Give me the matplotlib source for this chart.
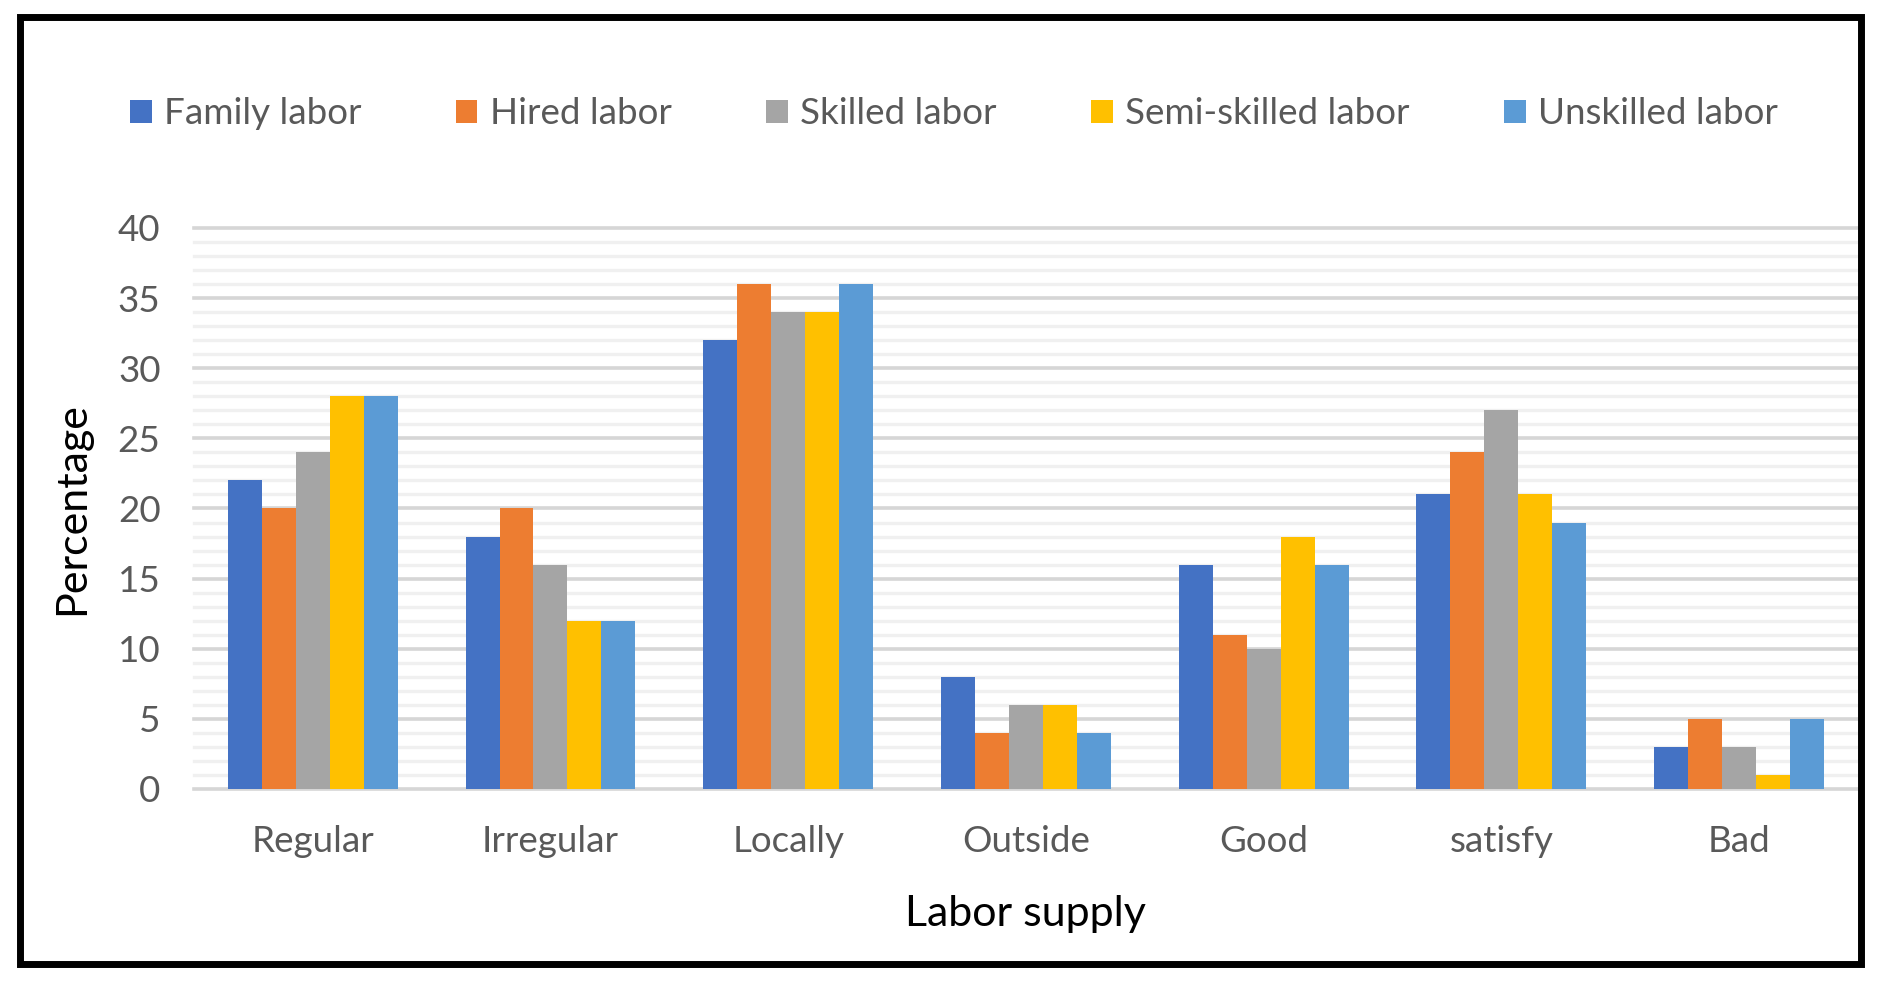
import matplotlib
matplotlib.use('Agg')
import matplotlib.pyplot as plt
import numpy as np
from matplotlib.patches import Rectangle

plt.rcParams['font.family'] = ['Lato', 'DejaVu Sans']

categories = ['Regular', 'Irregular', 'Locally', 'Outside', 'Good', 'satisfy', 'Bad']
series_names = ['Family labor', 'Hired labor', 'Skilled labor', 'Semi-skilled labor', 'Unskilled labor']
family_labor = [22, 18, 32, 8, 16, 21, 3]
hired_labor = [20, 20, 36, 4, 11, 24, 5]
skilled_labor = [24, 16, 34, 6, 10, 27, 3]
semi_skilled_labor = [28, 12, 34, 6, 18, 21, 1]
unskilled_labor = [28, 12, 36, 4, 16, 19, 5]
y_ticks = [0, 5, 10, 15, 20, 25, 30, 35, 40]

colors = ['#4472C4', '#ED7D31', '#A5A5A5', '#FFC000', '#5B9BD5']
series = [family_labor, hired_labor, skilled_labor, semi_skilled_labor, unskilled_labor]

fig = plt.figure(figsize=(18.79, 9.86), dpi=100)
ax = fig.add_axes([0.1032, 0.1998, 0.8856, 0.5690])

x = np.arange(len(categories))
group_w = 0.715
w = group_w / len(series)
for i, (vals, c, name) in enumerate(zip(series, colors, series_names)):
    ax.bar(x + (i - (len(series) - 1) / 2) * w, vals, w, color=c, label=name, zorder=3)

ax.set_xlim(-0.5, len(categories) - 0.5)
ax.set_ylim(0, 40)

for yv in range(0, 41):
    if yv % 5 == 0:
        ax.axhline(yv, color='#d6d6d6', lw=2.6, zorder=1, clip_on=False)
    else:
        ax.axhline(yv, color='#f0f0f0', lw=2.4, zorder=0.5, clip_on=False)

ax.set_yticks(y_ticks)
ax.set_xticks(x)
ax.set_xticklabels(categories)
ax.tick_params(axis='both', length=0, labelsize=26.5, colors='#595959')
ax.tick_params(axis='y', pad=24)
ax.tick_params(axis='x', pad=26)
for s in ax.spines.values():
    s.set_visible(False)

ax.set_xlabel('Labor supply', fontsize=31, color='black', va='center')
ax.xaxis.set_label_coords(0.5, -0.2228)
ax.set_ylabel('Percentage', fontsize=31, color='black', va='center')
ax.yaxis.set_label_coords(-0.0733, 0.499)

leg = fig.legend(loc='center', bbox_to_anchor=(0.5076, 0.8844), ncol=5, frameon=False,
                 fontsize=26.5, handlelength=0.59, handleheight=0.59, handletextpad=0.33,
                 columnspacing=2.57, labelcolor='#595959')

border = Rectangle((0.01064, 0.0223), 0.9798, 0.9605, transform=fig.transFigure,
                   fill=False, lw=5, ec='black', zorder=10)
fig.add_artist(border)

fig.savefig('out.png', dpi=100)
